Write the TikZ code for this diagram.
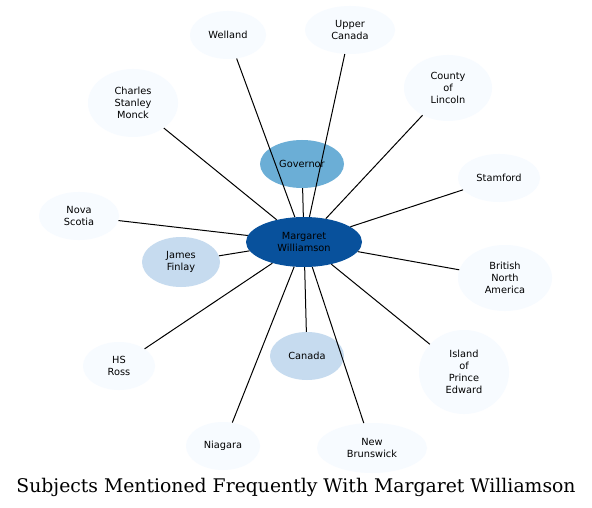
\documentclass[tikz,border=0pt]{standalone}
\usepackage{fontspec}
\setmainfont{DejaVu Sans}
\newfontfamily\titlefont{DejaVu Serif}
\usetikzlibrary{shapes.geometric}
\definecolor{cdark}{HTML}{08519C}
\definecolor{cmid}{HTML}{6BAED6}
\definecolor{clight}{HTML}{C6DBEF}
\definecolor{cpale}{HTML}{F7FBFF}
\begin{document}
\begin{tikzpicture}[x=1pt,y=-1pt,
  ent/.style={ellipse,inner sep=0pt,align=center,font=\fontsize{9.8}{11.8}\selectfont,text=black},
  pale/.style={ent,fill=cpale},
  light/.style={ent,fill=clight},
  mid/.style={ent,fill=cmid},
  dark/.style={ent,fill=cdark},
  link/.style={draw=black,line width=1pt}]
\useasboundingbox (0,0) rectangle (592,508);
\fill[white] (0,0) rectangle (592,508);
\node[dark,minimum width=116pt,minimum height=50pt] (c) at (304,242) {Margaret\\Williamson};
\node[mid,minimum width=84pt,minimum height=48pt] (gov) at (302,164) {Governor};
\node[pale,minimum width=76pt,minimum height=48pt] (wel) at (228,35) {Welland};
\node[pale,minimum width=90pt,minimum height=48pt] (upc) at (350,30) {Upper\\Canada};
\node[pale,minimum width=90pt,minimum height=68pt] (csm) at (133,103) {Charles\\Stanley\\Monck};
\node[pale,minimum width=88pt,minimum height=66pt] (col) at (448,88) {County\\of\\Lincoln};
\node[pale,minimum width=82pt,minimum height=48pt] (sta) at (499,178) {Stamford};
\node[pale,minimum width=80pt,minimum height=48pt] (nov) at (79,216) {Nova\\Scotia};
\node[light,minimum width=78pt,minimum height=50pt] (jf) at (181,262) {James\\Finlay};
\node[pale,minimum width=94pt,minimum height=66pt] (bna) at (505,278) {British\\North\\America};
\node[pale,minimum width=72pt,minimum height=48pt] (hs) at (119,366) {HS\\Ross};
\node[light,minimum width=74pt,minimum height=48pt] (can) at (307,356) {Canada};
\node[pale,minimum width=90pt,minimum height=84pt] (ipe) at (464,372) {Island\\of\\Prince\\Edward};
\node[pale,minimum width=74pt,minimum height=48pt] (nia) at (223,446) {Niagara};
\node[pale,minimum width=110pt,minimum height=50pt] (nb) at (372,448) {New\\Brunswick};
\foreach \n in {gov,wel,upc,csm,col,sta,nov,jf,bna,hs,can,ipe,nia,nb}
  \draw[link] (c) -- (\n);
\node[inner sep=0pt,font=\titlefont\fontsize{18.8}{22}\selectfont] (title) at (296,487) {Subjects Mentioned Frequently With Margaret Williamson};
\end{tikzpicture}
\end{document}
